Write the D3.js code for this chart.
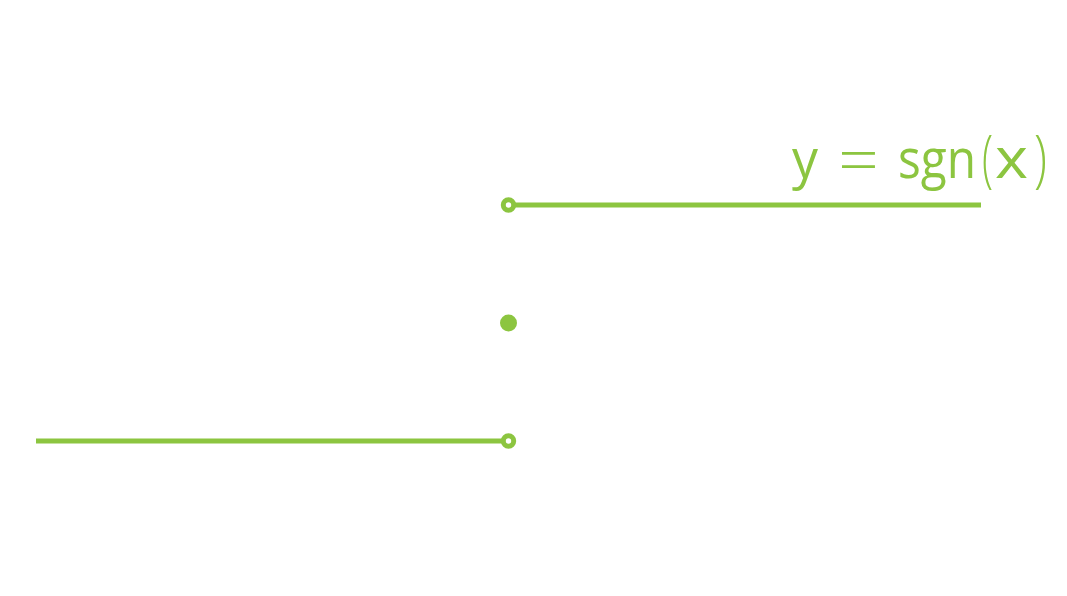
<!DOCTYPE html>
<html>
<head>
<meta charset="utf-8">
<script src="https://cdn.jsdelivr.net/npm/d3@7"></script>
<style>
html,body{margin:0;padding:0;background:#fff;}
svg{display:block;}
</style>
</head>
<body>
<svg id="chart" width="1067" height="596"></svg>
<script>
// data
const segmentX = [[-2, 0], [0, 2]];
const segmentY = [-1, 1];
const openPointsX = [0, 0];
const openPointsY = [1, -1];
const filledPointsX = [0];
const filledPointsY = [0];
const labelParts = ["y", "=", "sgn", "(", "x", ")"];

const color = "#8cc540";
const svg = d3.select("#chart");
const x = d3.scaleLinear().domain([-2, 2]).range([36, 981]);
const y = d3.scaleLinear().domain([-1, 1]).range([441, 205]);

const line = d3.line().x(d => x(d[0])).y(d => y(d[1]));

segmentX.forEach((sx, i) => {
  svg.append("path")
    .attr("d", line(sx.map(v => [v, segmentY[i]])))
    .attr("fill", "none")
    .attr("stroke", color)
    .attr("stroke-width", 5);
});

svg.selectAll("circle.open")
  .data(openPointsX.map((v, i) => [v, openPointsY[i]]))
  .join("circle")
  .attr("class", "open")
  .attr("cx", d => x(d[0]))
  .attr("cy", d => y(d[1]))
  .attr("r", 5.2)
  .attr("fill", "#fff")
  .attr("stroke", color)
  .attr("stroke-width", 5);

svg.selectAll("circle.filled")
  .data(filledPointsX.map((v, i) => [v, filledPointsY[i]]))
  .join("circle")
  .attr("class", "filled")
  .attr("cx", d => x(d[0]))
  .attr("cy", d => y(d[1]))
  .attr("r", 8.5)
  .attr("fill", color);

// label: pieces laid out like typeset math, each scaled to its width
const layout = [
  {x: 792, len: 26, size: 54, weight: 400, base: 178},
  {x: 838, len: 41, size: 66, weight: 300, base: 183},
  {x: 898, len: 78, size: 54, weight: 400, base: 178},
  {x: 982, len: 11, size: 62, weight: 300, base: 180},
  {x: 995, len: 33, size: 57, weight: 400, base: 178},
  {x: 1034, len: 13, size: 62, weight: 300, base: 180}
];
const labelGroup = svg.append("g").attr("class", "label");
labelParts.forEach((t, i) => {
  const L = layout[i];
  const g = labelGroup.append("g");
  const txt = g.append("text")
    .attr("x", 0)
    .attr("y", 0)
    .attr("font-family", "Open Sans, DejaVu Sans, sans-serif")
    .attr("font-size", L.size)
    .attr("font-weight", L.weight)
    .attr("fill", color)
    .text(t);
  const w = txt.node().getComputedTextLength() || L.len;
  g.attr("transform", `translate(${L.x},${L.base}) scale(${L.len / w},1)`);
});
</script>
</body>
</html>
